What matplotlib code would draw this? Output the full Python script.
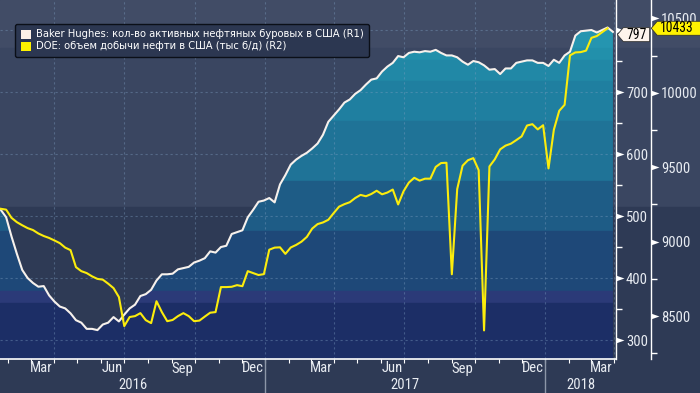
import numpy as np
import pandas as pd
import matplotlib
matplotlib.use("Agg")
import matplotlib.pyplot as plt
import matplotlib.dates as mdates
import matplotlib.ticker as mticker
from matplotlib.patches import Rectangle, Patch
from matplotlib.path import Path
from matplotlib.lines import Line2D
from matplotlib.markers import MarkerStyle
from matplotlib.textpath import TextPath
from matplotlib.font_manager import FontProperties, fontManager
import matplotlib.transforms as mtransforms

# ---------------- data ----------------
rig_start = "2016-01-15"
rig_counts = [
    515, 510, 498, 467, 439, 413, 400, 392, 386, 387, 372, 362, 354, 351, 343,
    332, 328, 318, 318, 316, 325, 328, 337, 330, 341, 351, 357, 371, 374, 381,
    396, 406, 406, 407, 414, 416, 418, 425, 428, 432, 443, 441, 450, 452, 471,
    474, 477, 498, 510, 523, 525,
    529, 522, 551, 566, 583, 591, 597, 602, 609, 617, 631, 652, 662, 672, 683,
    688, 697, 703, 712, 720, 722, 733, 741, 747, 758, 756, 763, 765, 764, 766,
    765, 768, 763, 759, 759, 756, 749, 744, 750, 748, 743, 736, 737, 729, 738,
    738, 747, 749, 751, 751, 747, 747,
    742, 752, 747, 759, 765, 791, 798, 799, 800, 796, 800, 804, 797,
]
prod_start = "2016-01-15"
production = [
    9227, 9221, 9215, 9160, 9131, 9110, 9091, 9078, 9055, 9038, 9025, 9008, 8990,
    8960, 8943, 8829, 8802, 8789, 8767, 8750, 8745, 8718, 8688, 8628, 8433, 8494,
    8500, 8520, 8473, 8453, 8600, 8527, 8466, 8474, 8500, 8520, 8500, 8466, 8470,
    8497, 8523, 8527, 8695, 8695, 8697, 8708, 8701, 8802, 8789, 8776, 8782,
    8946, 8960, 8962, 8918, 8961, 8978, 9000, 9032, 9088, 9118, 9129, 9147, 9192,
    9235, 9252, 9265, 9293, 9314, 9305, 9320, 9342, 9318, 9330, 9350, 9250, 9338,
    9397, 9429, 9410, 9423, 9423, 9502, 9528, 9530, 8781, 9353, 9510, 9547, 9561,
    9480, 8404, 9505, 9553, 9620, 9645, 9658, 9682, 9707, 9780, 9789, 9754, 9782,
    9492, 9752, 9879, 9919, 10251, 10271, 10273, 10283, 10369, 10381, 10407, 10433,
]
r1_major = [300, 400, 500, 600, 700, 800]
r1_labels = ["300", "400", "500", "600", "700", ""]   # 800 is hidden behind the value tag
r1_minor = [350, 450, 550, 650, 750]
r2_major = [8500, 9000, 9500, 10000, 10500]
r2_labels = ["8500", "9000", "9500", "10000", "10500"]
r2_minor = [8250, 8750, 9250, 9750, 10250]
year_labels = ["2016", "2017", "2018"]
legend_labels = [
    "Baker Hughes: кол-во активных нефтяных буровых в США (R1)",
    "DOE: объем добычи нефти в США (тыс б/д) (R2)",
]

rig_dates = pd.date_range(rig_start, periods=len(rig_counts), freq="7D")
prod_dates = pd.date_range(prod_start, periods=len(production), freq="7D")

# ---------------- fonts ----------------
available = {f.name for f in fontManager.ttflist}
AXFONT = "DejaVu Sans"
for cand in ["Liberation Sans Narrow", "DejaVu Sans Condensed", "Roboto Condensed",
             "Open Sans Condensed", "Liberation Sans", "Roboto"]:
    if cand in available:
        AXFONT = cand
        break
plt.rcParams["font.family"] = [AXFONT, "DejaVu Sans"]


def fit_size(text, target_px, family):
    w = TextPath((0, 0), text, size=10, prop=FontProperties(family=family)).get_extents().width
    return 10 * (target_px * 0.72) / w


AXSIZE = min(10.5, fit_size("10000", 35.5, AXFONT))
TAGSIZE = min(11.0, fit_size("797", 19, AXFONT))

# ---------------- style ----------------
W, H = 700, 393
TXT = "#e8ecf2"

fig = plt.figure(figsize=(W / 100, H / 100), dpi=100)
fig.patch.set_facecolor("#2e3a55")
for y0, y1, c in [(0, 48, "#414c66"), (48, 207, "#3a4661"), (207, 393, "#2e3a55")]:
    fig.add_artist(Rectangle((0, 1 - y1 / H), 1, (y1 - y0) / H,
                             transform=fig.transFigure, color=c, zorder=-10))

AX_H = 359
ax = fig.add_axes([0, (H - AX_H) / H, 616 / W, AX_H / H])
ax.set_facecolor("none")
ax.set_xlim(pd.Timestamp("2016-01-21"), pd.Timestamp("2018-04-03"))
ax.set_ylim(269.4, 848.4)

# fill under rig line with colour bands
fill = ax.fill_between(rig_dates, rig_counts, 0, facecolor="none", edgecolor="none")
clip_path = fill.get_paths()[0]
bands = [(0, 48, "#2595b0"), (48, 60, "#2290ab"), (60, 81, "#2188a6"),
         (81, 121, "#1f7fa0"), (121, 181, "#1f7397"), (181, 231, "#1e5c86"),
         (231, 291, "#1e4878"), (291, 303, "#2b3a78"), (303, 359, "#1c2e66")]
for y0, y1, c in bands:
    r = Rectangle((0, 1 - y1 / AX_H), 1, (y1 - y0) / AX_H, transform=ax.transAxes,
                  color=c, zorder=1)
    ax.add_patch(r)
    r.set_clip_path(clip_path, ax.transData)

# grid
gkw = dict(color="#7f9fc2", alpha=0.4, lw=0.8, dashes=(2, 2.5), zorder=2)
for v in r1_major:
    ax.axhline(v, **gkw)
for d in pd.date_range("2016-04-01", "2018-04-01", freq="QS"):
    ax.axvline(d, **gkw)

ax.plot(rig_dates, rig_counts, color="#f7f1ec", lw=1.5, zorder=5)

ax2 = ax.twinx()
ax.yaxis.tick_right()
ax2.set_ylim(8212, 10623)
ax2.plot(prod_dates, production, color="#fbec0c", lw=1.5, zorder=5)

for s in ["top", "left"]:
    ax.spines[s].set_visible(False)
ax.spines["right"].set_color("white")
ax.spines["bottom"].set_color("white")
ax.spines["right"].set_linewidth(1.0)
ax.spines["bottom"].set_linewidth(1.2)
for s in ["top", "left", "bottom"]:
    ax2.spines[s].set_visible(False)
ax2.spines["right"].set_position(("outward", 35 * 0.72))
ax2.spines["right"].set_color("white")
ax2.spines["right"].set_linewidth(1.0)

# x axis
ax.xaxis.set_major_locator(mdates.MonthLocator())
ax.xaxis.set_major_formatter(mticker.NullFormatter())
ax.xaxis.set_minor_locator(mdates.MonthLocator(bymonth=[3, 6, 9, 12], bymonthday=15))
ax.xaxis.set_minor_formatter(mdates.DateFormatter("%b"))
ax.tick_params(axis="x", which="major", length=3, width=0.8, color="white", direction="out")
ax.tick_params(axis="x", which="minor", length=0, pad=1.8, labelsize=AXSIZE, labelcolor=TXT)

# y axes
for a, maj, labs, mnr in [(ax, r1_major, r1_labels, r1_minor),
                          (ax2, r2_major, r2_labels, r2_minor)]:
    a.yaxis.set_major_locator(mticker.FixedLocator(maj))
    a.yaxis.set_minor_locator(mticker.FixedLocator(mnr))
    a.yaxis.set_major_formatter(mticker.FixedFormatter(labs))
    a.tick_params(axis="y", which="major", left=False, right=True, length=11.5, width=0,
                  pad=-4.3, labelsize=AXSIZE, labelcolor=TXT, color="white")
    a.tick_params(axis="y", which="minor", left=False, right=True, length=4, width=1,
                  color="white")

tri = MarkerStyle(Path([(0, -0.35), (1, 0), (0, 0.35), (0, -0.35)],
                       [Path.MOVETO, Path.LINETO, Path.LINETO, Path.CLOSEPOLY]))
for a in (ax, ax2):
    for t in a.yaxis.get_major_ticks():
        t.tick2line.set_marker(tri)
        t.tick2line.set_markersize(11.5)
        t.tick2line.set_markerfacecolor("white")
        t.tick2line.set_markeredgecolor("white")

# year labels and separators
xl = ax.get_xlim()
bounds = [xl[0], mdates.date2num(pd.Timestamp("2017-01-01")),
          mdates.date2num(pd.Timestamp("2018-01-01")), xl[1]]
btr = mtransforms.blended_transform_factory(ax.transData, ax.transAxes)
for i, lab in enumerate(year_labels):
    ax.text((bounds[i] + bounds[i + 1]) / 2, -26 / AX_H, lab, transform=btr,
            ha="center", va="center", fontsize=AXSIZE, color=TXT, clip_on=False)
for b in bounds[1:3]:
    ax.add_line(Line2D([b, b], [0, -(H - AX_H) / AX_H], transform=btr,
                       color="#8c96a8", lw=1, clip_on=False))

# legend
handles = [Patch(facecolor="#fdf1e7", edgecolor="none"),
           Patch(facecolor="#fff200", edgecolor="none")]
leg = ax2.legend(handles, legend_labels, loc="upper left",
                 bbox_to_anchor=(15 / 616, 1 - 24 / AX_H), bbox_transform=ax.transAxes,
                 frameon=True, fancybox=True, facecolor="#2c3751", edgecolor="#0b0f18",
                 framealpha=1, prop={"family": "DejaVu Sans", "size": 7.2},
                 labelcolor="white", handlelength=1.0, handleheight=1.0,
                 handletextpad=0.55, borderpad=0.55, labelspacing=0.2, borderaxespad=0)
leg.get_frame().set_linewidth(1.0)
leg.set_zorder(20)


# value tags
def make_tag(rextra=0.0):
    def tag(x0, y0, width, height, mutation_size):
        xp = 0.22 * mutation_size
        left = x0 - xp
        right = x0 + width + xp + rextra * mutation_size
        bot, top = y0, y0 + height
        tip = 0.85 * (top - bot) / 2
        ym = (top + bot) / 2
        return Path([(left - tip, ym), (left, top), (right, top), (right, bot),
                     (left, bot), (left - tip, ym)], closed=True)
    return tag


ax2.annotate(f"{rig_counts[-1]}", xy=(1, rig_counts[-1]),
             xycoords=("axes fraction", ax.transData), xytext=(7.4, -2),
             textcoords="offset points", ha="left", va="center", fontsize=TAGSIZE,
             color="black", annotation_clip=False, zorder=30,
             bbox=dict(boxstyle=make_tag(), facecolor="#fdf4ec", edgecolor="#333333", lw=0.6))
ax2.annotate(f"{production[-1]}", xy=(1, production[-1]),
             xycoords=("axes fraction", "data"), xytext=(25.2 + 6.6, 0),
             textcoords="offset points", ha="left", va="center", fontsize=TAGSIZE,
             color="black", annotation_clip=False, zorder=30,
             bbox=dict(boxstyle=make_tag(0.8), facecolor="#fff200", edgecolor="#333333", lw=0.6))

fig.savefig("out.png", dpi=100, facecolor=fig.get_facecolor())
